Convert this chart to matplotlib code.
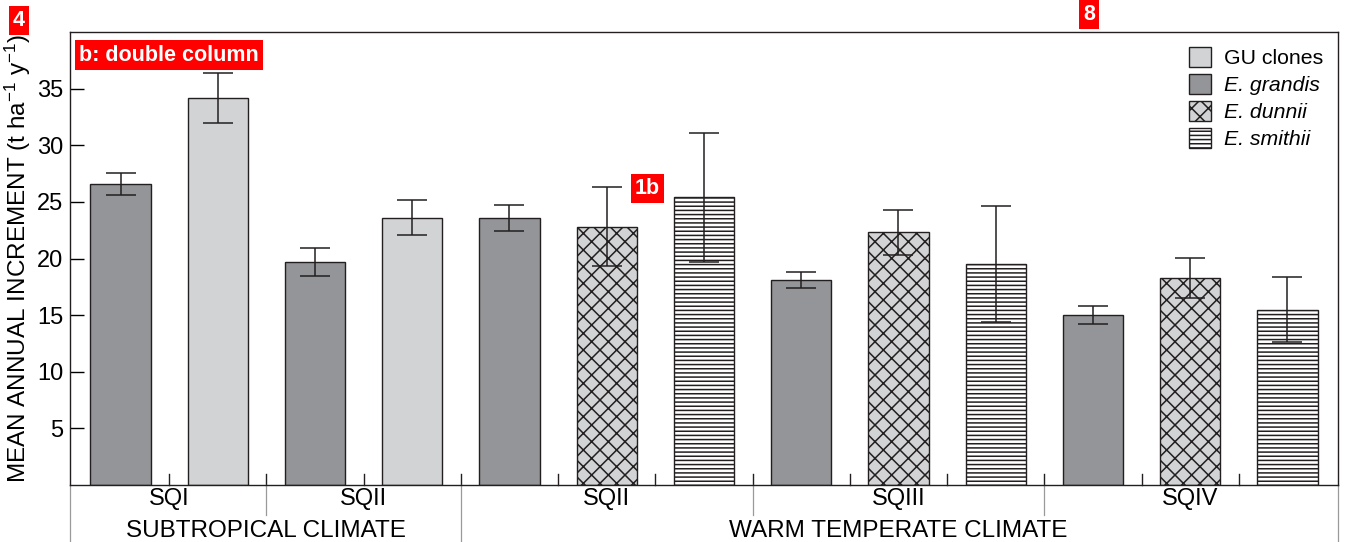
import matplotlib.pyplot as plt
import numpy as np

plt.rcParams['font.family'] = ['Liberation Sans', 'DejaVu Sans']
plt.rcParams['mathtext.fontset'] = 'custom'
plt.rcParams['mathtext.rm'] = 'Liberation Sans'
plt.rcParams['mathtext.it'] = 'Liberation Sans:italic'
plt.rcParams['hatch.linewidth'] = 1.1
plt.rcParams['hatch.color'] = '#2b2b2b'

# === Data ===
species = ['grandis', 'GU', 'grandis', 'GU',
           'grandis', 'dunnii', 'smithii',
           'grandis', 'dunnii', 'smithii',
           'grandis', 'dunnii', 'smithii']
mai = [26.6, 34.2, 19.7, 23.6, 23.6, 22.8, 25.4, 18.1, 22.3, 19.5, 15.0, 18.3, 15.5]
err = [0.95, 2.2, 1.25, 1.55, 1.15, 3.5, 5.7, 0.7, 2.0, 5.1, 0.8, 1.75, 2.9]

sq_labels = ['SQI', 'SQII', 'SQII', 'SQIII', 'SQIV']
sq_pos = [0.5, 2.5, 5, 8, 11]
climate_labels = ['SUBTROPICAL CLIMATE', 'WARM TEMPERATE CLIMATE']
climate_pos = [1.5, 8.0]

# === Styles ===
edge = '#231f20'
styles = {
    'GU':      dict(color='#d1d3d4', hatch=None, label='GU clones'),
    'grandis': dict(color='#939598', hatch=None, label='E. grandis'),
    'dunnii':  dict(color='#d1d3d4', hatch='xx', label='E. dunnii'),
    'smithii': dict(color='white', hatch='----', label='E. smithii'),
}

fig = plt.figure(figsize=(13.46, 5.42), dpi=100)
ax = fig.add_axes([0.052, 0.105, 0.942, 0.836])

x = np.arange(len(mai))
for xi, sp, v in zip(x, species, mai):
    st = styles[sp]
    ax.bar(xi, v, width=0.62, color=st['color'], hatch=st['hatch'],
           edgecolor=edge, linewidth=1.0, zorder=2)

ax.errorbar(x, mai, yerr=err, fmt='none', ecolor=edge, elinewidth=1.1,
            capsize=11, capthick=1.1, zorder=3)

ax.set_xlim(-0.52, 12.52)
ax.set_ylim(0, 40)
ax.set_yticks([5, 10, 15, 20, 25, 30, 35])
ax.tick_params(axis='y', direction='in', length=10, width=1, labelsize=17, pad=5)
ax.set_xticks([])
for s in ax.spines.values():
    s.set_color(edge)
    s.set_linewidth(1.0)

ax.set_ylabel(r'MEAN ANNUAL INCREMENT (t ha$^{-1}$ y$^{-1}$)', fontsize=17.5, labelpad=3)

# small ticks between bars and group separators below the axis
tr = ax.get_xaxis_transform()
for b in np.arange(0.5, 12, 1.0):
    ax.plot([b, b], [0, 0.024], color=edge, lw=1.0, transform=tr, clip_on=False)
for b in [1.5, 6.5, 9.5]:
    ax.plot([b, b], [0, -0.066], color='#9a9a9a', lw=0.9, transform=tr, clip_on=False)
for b in [-0.52, 3.5, 12.52]:
    ax.plot([b, b], [0, -0.14], color='#9a9a9a', lw=0.9, transform=tr, clip_on=False)

for lab, p in zip(sq_labels, sq_pos):
    ax.text(p, -0.03, lab, transform=tr, ha='center', va='center', fontsize=17)
for lab, p in zip(climate_labels, climate_pos):
    ax.text(p, -0.102, lab, transform=tr, ha='center', va='center', fontsize=17.5)

# legend
handles = [plt.Rectangle((0, 0), 1, 1, facecolor=styles[k]['color'],
                         hatch=styles[k]['hatch'], edgecolor=edge, linewidth=1.0)
           for k in ['GU', 'grandis', 'dunnii', 'smithii']]
labels = [styles[k]['label'] for k in ['GU', 'grandis', 'dunnii', 'smithii']]
leg = ax.legend(handles, labels, loc='upper right', frameon=False, fontsize=15.3,
                handlelength=1.05, handleheight=1.05, labelspacing=0.28,
                handletextpad=0.6, borderaxespad=0.3, bbox_to_anchor=(1.0, 1.0))
for t in leg.get_texts()[1:]:
    t.set_style('italic')

# red page markers
box = dict(boxstyle='square,pad=0.2', facecolor='#ff0000', edgecolor='none')
fig.text(0.0141, 0.962, '4', color='white', fontsize=15.5, fontweight='bold',
         ha='center', va='center', bbox=box)
fig.text(0.1255, 0.8985, 'b: double column', color='white', fontsize=15.5,
         fontweight='bold', ha='center', va='center', bbox=box)
fig.text(0.8092, 0.973, '8', color='white', fontsize=15.5, fontweight='bold',
         ha='center', va='center', bbox=box)
fig.text(0.4811, 0.652, '1b', color='white', fontsize=15.5, fontweight='bold',
         ha='center', va='center', bbox=box)

plt.savefig('out.png', dpi=100)
